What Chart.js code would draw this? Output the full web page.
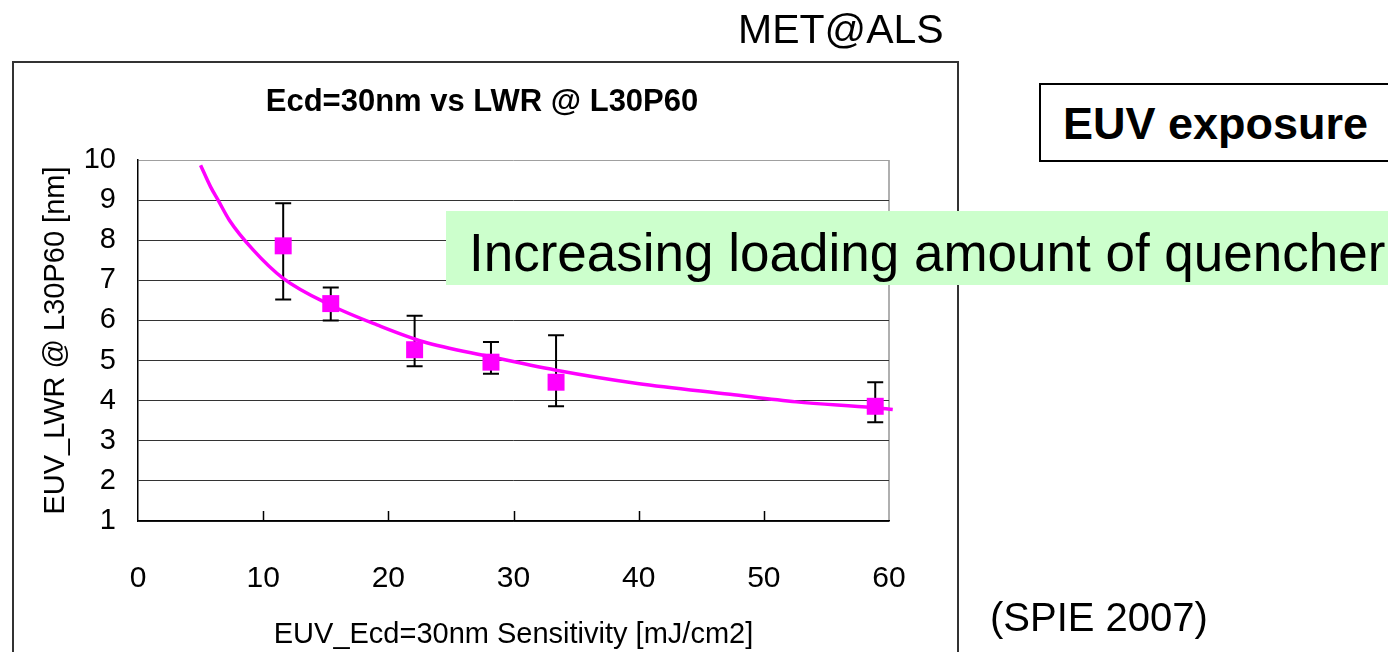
<!DOCTYPE html>
<html>
<head>
<meta charset="utf-8">
<script src="https://cdn.jsdelivr.net/npm/chart.js@4.4.1/dist/chart.umd.min.js"></script>
<style>
  html, body { margin: 0; padding: 0; background: #fff; }
  body { width: 1388px; height: 652px; position: relative; overflow: hidden; font-family: "Liberation Sans", Arial, sans-serif; color: #000; }
  #frame { position: absolute; left: 12px; top: 61px; width: 943px; height: 640px; border: 2px solid #333; }
  #c { position: absolute; left: 0; top: 0; }
  .txt { position: absolute; white-space: nowrap; line-height: 1; }
  #met { left: 738px; top: 9px; font-size: 41px; }
  #euv { position: absolute; left: 1039px; top: 83px; width: 400px; height: 75px; border: 2px solid #000; background: #fff; }
  #euv span { position: absolute; left: 22px; top: 16px; font-size: 45px; font-weight: bold; line-height: 1; white-space: nowrap; }
  #green { position: absolute; left: 446px; top: 211px; width: 960px; height: 74px; background: #ccffcc; }
  #green span { position: absolute; left: 23px; top: 15px; font-size: 53px; line-height: 1; white-space: nowrap; }
  #spie { left: 990px; top: 597px; font-size: 40px; }
</style>
</head>
<body>
<div id="frame"></div>
<canvas id="c" width="1388" height="652"></canvas>
<div class="txt" id="met">MET@ALS</div>
<div id="euv"><span>EUV exposure</span></div>
<div id="green"><span>Increasing loading amount of quencher</span></div>
<div class="txt" id="spie">(SPIE 2007)</div>
<script>
// measured points with error bars
const pointX = [11.6, 15.4, 22.1, 28.2, 33.4, 58.9];
const pointY = [7.86, 6.42, 5.27, 4.96, 4.46, 3.86];
const errHigh = [8.92, 6.82, 6.12, 5.46, 5.63, 4.46];
const errLow = [6.52, 6.00, 4.86, 4.67, 3.86, 3.46];

// fitted curve
const fitX = [5.0, 5.8, 6.4, 7.3, 9.2, 11.6, 15.4, 19.1, 22.8, 28.1, 33.4, 39.9, 47.3, 52.6, 58.7, 60.3];
const fitY = [9.87, 9.33, 9.0, 8.5, 7.76, 7.05, 6.38, 5.89, 5.47, 5.1, 4.76, 4.43, 4.16, 3.97, 3.83, 3.78];

const xInnerTicks = [10, 20, 30, 40, 50];

const magenta = "#ff00ff";
const font = '"Liberation Sans", Arial, sans-serif';

const errorBars = {
  id: 'errorBars',
  beforeDatasetsDraw(chart) {
    const { ctx, scales: { x, y }, chartArea } = chart;
    ctx.save();
    ctx.strokeStyle = '#000';
    ctx.lineWidth = 1.5;
    // small tick marks pointing up from the x axis
    xInnerTicks.forEach(v => {
      const px = Math.round(x.getPixelForValue(v)) + 0.5;
      ctx.beginPath();
      ctx.moveTo(px, chartArea.bottom);
      ctx.lineTo(px, chartArea.bottom - 10);
      ctx.stroke();
    });
    ctx.lineWidth = 2;
    pointX.forEach((v, i) => {
      const px = x.getPixelForValue(v);
      const top = y.getPixelForValue(errHigh[i]);
      const bot = y.getPixelForValue(errLow[i]);
      ctx.beginPath();
      ctx.moveTo(px, top);
      ctx.lineTo(px, bot);
      ctx.moveTo(px - 8, top);
      ctx.lineTo(px + 8, top);
      ctx.moveTo(px - 8, bot);
      ctx.lineTo(px + 8, bot);
      ctx.stroke();
    });
    ctx.restore();
  }
};

new Chart(document.getElementById('c'), {
  type: 'scatter',
  data: {
    datasets: [
      {
        label: 'LWR',
        data: pointX.map((v, i) => ({ x: v, y: pointY[i] })),
        pointStyle: 'rect',
        pointRadius: 12,
        backgroundColor: magenta,
        borderColor: magenta,
        borderWidth: 0,
        showLine: false
      },
      {
        label: 'fit',
        data: fitX.map((v, i) => ({ x: v, y: fitY[i] })),
        showLine: true,
        pointRadius: 0,
        borderColor: magenta,
        borderWidth: 3.5,
        cubicInterpolationMode: 'monotone',
        clip: 6
      }
    ]
  },
  options: {
    responsive: false,
    animation: false,
    devicePixelRatio: 1,
    layout: { padding: { left: 12, top: 61, right: 436, bottom: 0 } },
    plugins: {
      legend: { display: false },
      tooltip: { enabled: false },
      title: {
        display: true,
        text: 'Ecd=30nm vs LWR @ L30P60',
        color: '#000',
        font: { family: font, size: 31, weight: 'bold' },
        padding: { top: 23, bottom: 38.8 }
      }
    },
    scales: {
      x: {
        type: 'linear',
        min: 0,
        max: 60,
        afterFit: s => { s.height = 131; },
        ticks: { stepSize: 10, color: '#000', padding: 40, font: { family: font, size: 30 } },
        grid: {
          drawTicks: false,
          lineWidth: 2,
          color: c => (c.tick && c.tick.value === 60 ? '#b0b0b0' : 'rgba(0,0,0,0)')
        },
        border: { color: '#000', width: 1.5 },
        title: {
          display: true,
          text: 'EUV_Ecd=30nm Sensitivity [mJ/cm2]',
          color: '#000',
          font: { family: font, size: 29 },
          padding: { top: 0, bottom: 0 }
        }
      },
      y: {
        min: 1,
        max: 10,
        afterFit: s => { s.width = 126; },
        ticks: { stepSize: 1, color: '#000', padding: 22, font: { family: font, size: 29 } },
        grid: {
          drawTicks: false,
          lineWidth: 1,
          color: c => (c.tick && c.tick.value === 10 ? '#a0a0a0' : '#333')
        },
        border: { color: '#000', width: 1.5 },
        title: {
          display: true,
          text: 'EUV_LWR @ L30P60 [nm]',
          color: '#000',
          font: { family: font, size: 29 },
          padding: { top: 27, bottom: 0 }
        }
      },
      yRight: {
        position: 'right',
        afterFit: s => { s.width = 63; },
        ticks: { display: false },
        grid: { display: false },
        border: { display: false }
      }
    }
  },
  plugins: [errorBars]
});
</script>
</body>
</html>
